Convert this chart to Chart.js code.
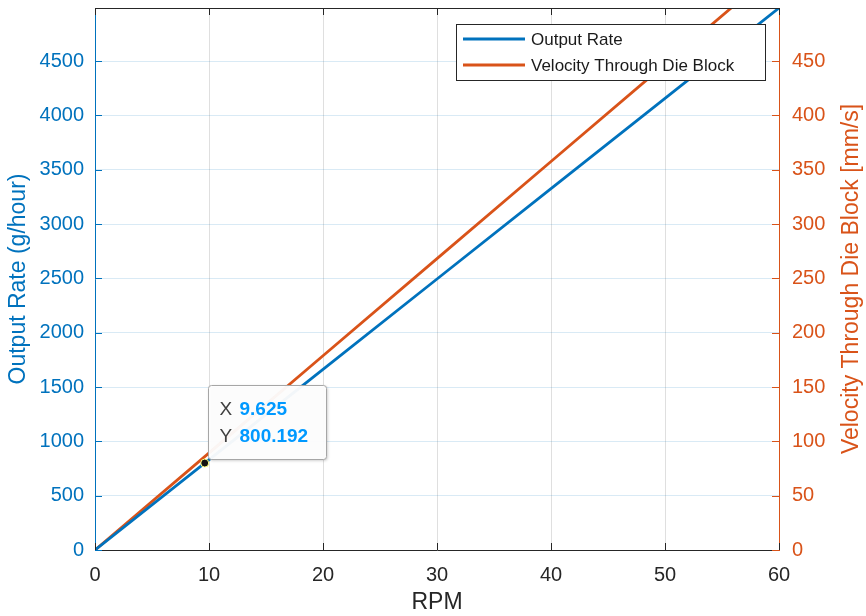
<!DOCTYPE html>
<html>
<head>
<meta charset="utf-8">
<script src="https://cdn.jsdelivr.net/npm/chart.js@4.4.1/dist/chart.umd.min.js"></script>
<style>
html,body{margin:0;padding:0;background:#fff;}
#wrap{width:866px;height:616px;position:relative;}
</style>
</head>
<body>
<div id="wrap"><canvas id="c" width="866" height="616"></canvas></div>
<script>
// ---- data ----
const rpm = [0, 9.625, 20, 30, 40, 50, 60];
const outputRate = [0, 800.192, 1662.9, 2494.3, 3325.8, 4157.2, 4988.6];
const velocity = [0, 86.0, 178.8, 268.2, 357.6, 447.0, 536.4];
const xTicks = [0, 10, 20, 30, 40, 50, 60];
const leftTicks = [0, 500, 1000, 1500, 2000, 2500, 3000, 3500, 4000, 4500];
const rightTicks = [0, 50, 100, 150, 200, 250, 300, 350, 400, 450];
const leftMax = 4988.6;
const rightMax = 498.86;
const tipIndex = 1; // data tip on Output Rate at rpm[1]
const seriesNames = ['Output Rate', 'Velocity Through Die Block'];
const titles = {x: 'RPM', left: 'Output Rate (g/hour)', right: 'Velocity Through Die Block [mm/s]'};

const BLUE = '#0072BD';
const ORANGE = '#D95319';
const FONT = '"Liberation Sans", Arial, Helvetica, sans-serif';

function noPad(s) { s.paddingTop = 0; s.paddingBottom = 0; s.paddingLeft = 0; s.paddingRight = 0; }

const frame = {
  id: 'frame',
  afterDatasetsDraw(chart) {
    const ctx = chart.ctx;
    const a = chart.chartArea;
    const xs = chart.scales.x, yl = chart.scales.yL, yr = chart.scales.yR;
    const TL = 7;
    ctx.save();
    // top border
    ctx.strokeStyle = '#262626';
    ctx.lineWidth = 1;
    ctx.beginPath();
    ctx.moveTo(a.left, a.top + 0.5); ctx.lineTo(a.right, a.top + 0.5);
    ctx.stroke();
    // x ticks (inward, bottom and top)
    xTicks.forEach(v => {
      const px = Math.round(xs.getPixelForValue(v)) + 0.5;
      ctx.beginPath();
      ctx.moveTo(px, a.bottom); ctx.lineTo(px, a.bottom - TL);
      ctx.moveTo(px, a.top); ctx.lineTo(px, a.top + TL);
      ctx.stroke();
    });
    // left ticks
    ctx.strokeStyle = BLUE;
    leftTicks.forEach(v => {
      const py = Math.round(yl.getPixelForValue(v)) + 0.5;
      ctx.beginPath(); ctx.moveTo(a.left, py); ctx.lineTo(a.left + TL, py); ctx.stroke();
    });
    ctx.strokeStyle = ORANGE;
    rightTicks.forEach(v => {
      const py = Math.round(yr.getPixelForValue(v)) + 0.5;
      ctx.beginPath(); ctx.moveTo(a.right, py); ctx.lineTo(a.right - TL, py); ctx.stroke();
    });

    // axis titles
    ctx.textAlign = 'center';
    ctx.textBaseline = 'middle';
    ctx.font = '23px ' + FONT;
    ctx.fillStyle = '#262626';
    ctx.fillText(titles.x, (a.left + a.right) / 2, 603);
    const cy = (a.top + a.bottom) / 2;
    ctx.save();
    ctx.translate(19, cy); ctx.rotate(-Math.PI / 2);
    ctx.fillStyle = BLUE; ctx.fillText(titles.left, 0, 0);
    ctx.restore();
    ctx.save();
    ctx.translate(852, cy); ctx.rotate(-Math.PI / 2);
    ctx.fillStyle = ORANGE; ctx.fillText(titles.right, 0, 0);
    ctx.restore();

    // legend
    const lx = 456.5, ly = 24.5, lw = 309, lh = 56;
    ctx.fillStyle = '#fff';
    ctx.fillRect(lx, ly, lw, lh);
    ctx.strokeStyle = '#262626';
    ctx.lineWidth = 1;
    ctx.strokeRect(lx, ly, lw, lh);
    ctx.font = '17px ' + FONT;
    ctx.textAlign = 'left';
    ctx.textBaseline = 'middle';
    [[BLUE, 39], [ORANGE, 65]].forEach((e, i) => {
      ctx.strokeStyle = e[0]; ctx.lineWidth = 3;
      ctx.beginPath(); ctx.moveTo(463, e[1]); ctx.lineTo(525, e[1]); ctx.stroke();
      ctx.fillStyle = '#1a1a1a';
      ctx.fillText(seriesNames[i], 531, e[1] + 1);
    });

    // data tip
    const tx = xs.getPixelForValue(rpm[tipIndex]);
    const ty = yl.getPixelForValue(outputRate[tipIndex]);
    const bx = Math.round(tx) + 3.5, by = Math.round(ty) - 77.5, bw = 118, bh = 74;
    ctx.save();
    ctx.shadowColor = 'rgba(0,0,0,0.25)';
    ctx.shadowBlur = 3; ctx.shadowOffsetX = 1; ctx.shadowOffsetY = 1;
    ctx.fillStyle = 'rgba(255,255,255,0.95)';
    ctx.beginPath();
    ctx.roundRect(bx, by, bw, bh, 3);
    ctx.fill();
    ctx.restore();
    ctx.strokeStyle = '#a6a6a6'; ctx.lineWidth = 1;
    ctx.beginPath(); ctx.roundRect(bx, by, bw, bh, 3); ctx.stroke();
    ctx.textBaseline = 'middle';
    ctx.textAlign = 'left';
    const rows = [['X', String(rpm[tipIndex])], ['Y', String(outputRate[tipIndex])]];
    rows.forEach((r, i) => {
      const yy = by + 24 + i * 27;
      ctx.font = '19px ' + FONT;
      ctx.fillStyle = '#404040';
      ctx.fillText(r[0], bx + 11, yy);
      ctx.font = 'bold 19px ' + FONT;
      ctx.fillStyle = '#0099FF';
      ctx.fillText(r[1], bx + 31, yy);
    });
    // marker
    ctx.beginPath();
    ctx.arc(tx, ty, 4, 0, Math.PI * 2);
    ctx.fillStyle = '#111';
    ctx.fill();
    ctx.strokeStyle = '#ffff80'; ctx.lineWidth = 1;
    ctx.stroke();
    ctx.restore();
  }
};

const plain = v => String(v);

new Chart(document.getElementById('c'), {
  type: 'line',
  data: {
    datasets: [
      {label: seriesNames[0], data: rpm.map((x, i) => ({x, y: outputRate[i]})), yAxisID: 'yL',
       borderColor: BLUE, borderWidth: 2.8, pointRadius: 0, tension: 0, fill: false},
      {label: seriesNames[1], data: rpm.map((x, i) => ({x, y: velocity[i]})), yAxisID: 'yR',
       borderColor: ORANGE, borderWidth: 2.8, pointRadius: 0, tension: 0, fill: false}
    ]
  },
  options: {
    responsive: false,
    animation: false,
    devicePixelRatio: 1,
    layout: {padding: {top: 8, left: 0, right: 0, bottom: 0}},
    plugins: {legend: {display: false}, tooltip: {enabled: false}},
    events: [],
    scales: {
      x: {
        type: 'linear', min: 0, max: 60,
        afterBuildTicks(s) { s.ticks = xTicks.map(v => ({value: v})); },
        afterFit(s) { s.height = 66; noPad(s); },
        ticks: {color: '#262626', font: {size: 20, family: FONT}, padding: 13, maxRotation: 0, callback: plain},
        grid: {color: 'rgba(38,38,38,0.15)', drawTicks: false},
        border: {color: '#262626', width: 1}
      },
      yL: {
        type: 'linear', position: 'left', min: 0, max: leftMax,
        afterBuildTicks(s) { s.ticks = leftTicks.map(v => ({value: v})); },
        afterFit(s) { s.width = 95; noPad(s); },
        ticks: {color: BLUE, font: {size: 20, family: FONT}, padding: 11, callback: plain},
        grid: {color: 'rgba(0,114,189,0.15)', drawTicks: false},
        border: {color: BLUE, width: 1}
      },
      yR: {
        type: 'linear', position: 'right', min: 0, max: rightMax,
        afterBuildTicks(s) { s.ticks = rightTicks.map(v => ({value: v})); },
        afterFit(s) { s.width = 87; noPad(s); },
        ticks: {color: ORANGE, font: {size: 20, family: FONT}, padding: 13, callback: plain},
        grid: {display: false, drawTicks: false},
        border: {color: ORANGE, width: 1}
      }
    }
  },
  plugins: [frame]
});
</script>
</body>
</html>
